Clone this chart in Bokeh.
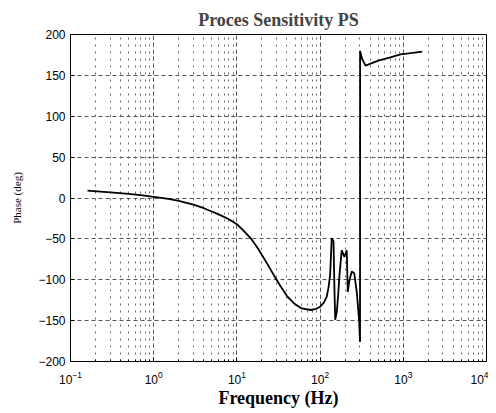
import numpy as np
from bokeh.plotting import figure
from bokeh.models import FixedTicker, LogTicker, Range1d
from bokeh.embed import file_html
from bokeh.resources import INLINE

# Frequency (Hz) and phase (deg)
freq = [0.16, 0.3, 0.5, 0.7, 1.0, 1.5, 2.0, 3.0, 4.0, 5.0, 6.5, 8.0, 10.0, 12.0, 14.6,
        18.0, 23.0, 28.0, 33.5, 40.0, 50.0, 60.0, 77.0, 90.0, 100.0, 111.0, 120.0,
        126.0, 132.0, 138.0, 145.0, 149.0, 152.0, 159.0, 165.0, 171.0, 182.0, 196.0,
        209.0, 215.0, 224.0, 240.0, 257.0, 276.0, 295.0, 302.0, 302.5, 320.0, 352.0,
        500.0, 700.0, 925.0, 1300.0, 1690.0]
phase = [9.0, 7.0, 5.0, 3.5, 1.5, -1.0, -3.5, -8.0, -12.5, -16.5, -21.5, -26.0, -32.0,
         -40.0, -49.0, -62.0, -80.0, -95.0, -108.0, -120.0, -130.0, -135.0, -137.0,
         -135.5, -133.0, -128.0, -121.0, -110.0, -94.0, -49.0, -53.0, -115.0, -149.0,
         -139.0, -118.0, -94.0, -64.0, -72.0, -64.0, -115.0, -102.0, -90.0, -92.0,
         -115.0, -151.0, -176.0, 180.0, 170.0, 162.0, 168.0, 172.0, 175.8, 177.5, 179.0]

y_ticks = [-200, -150, -100, -50, 0, 50, 100, 150, 200]

p = figure(width=488, height=413, x_axis_type="log", output_backend="svg",
           toolbar_location=None, title="Proces Sensitivity PS",
           x_range=Range1d(0.1, 10000), y_range=Range1d(-200, 200),
           min_border_left=70, min_border_right=2, min_border_top=34,
           min_border_bottom=52)

p.title.align = "center"
p.title.text_font = "Liberation Serif"
p.title.text_font_size = "18px"
p.title.text_font_style = "bold"
p.title.standoff = 10

p.xaxis.ticker = LogTicker(num_minor_ticks=10)
p.yaxis.ticker = FixedTicker(ticks=y_ticks)

for ax in (p.xaxis[0], p.yaxis[0]):
    ax.major_label_text_font = "Liberation Sans"
    ax.major_label_text_font_size = "12px"
    ax.major_label_text_color = "black"
    ax.axis_line_color = "black"
    ax.major_tick_in = 4
    ax.major_tick_out = 0
    ax.minor_tick_in = 2
    ax.minor_tick_out = 0
    ax.major_tick_line_color = "black"
    ax.minor_tick_line_color = "black"
    ax.axis_label_text_font = "Liberation Serif"
    ax.axis_label_text_font_style = "bold"
    ax.axis_label_text_color = "black"

p.xaxis.major_label_standoff = 9
p.yaxis.major_label_standoff = 5
p.yaxis.minor_tick_line_color = None
p.xaxis.axis_label = "Frequency (Hz)"
p.xaxis.axis_label_text_font_size = "18px"
p.xaxis.axis_label_standoff = 1
p.yaxis.axis_label = "Phase (deg)"
p.yaxis.axis_label_text_font_size = "11px"
p.yaxis.axis_label_text_font_style = "normal"
p.yaxis.axis_label_standoff = 12

p.xgrid.grid_line_color = "#555555"
p.xgrid.grid_line_dash = "4 3"
p.xgrid.grid_line_width = 1
p.xgrid.minor_grid_line_color = "#666666"
p.xgrid.minor_grid_line_dash = "2 5"
p.ygrid.grid_line_color = "#555555"
p.ygrid.grid_line_dash = "4 3"
p.ygrid.grid_line_width = 1

p.outline_line_color = "black"
p.outline_line_width = 1
p.background_fill_color = "white"
p.border_fill_color = "white"

p.line(freq, phase, line_color="black", line_width=1.8)

open("out.html", "w").write(file_html(p, INLINE))
